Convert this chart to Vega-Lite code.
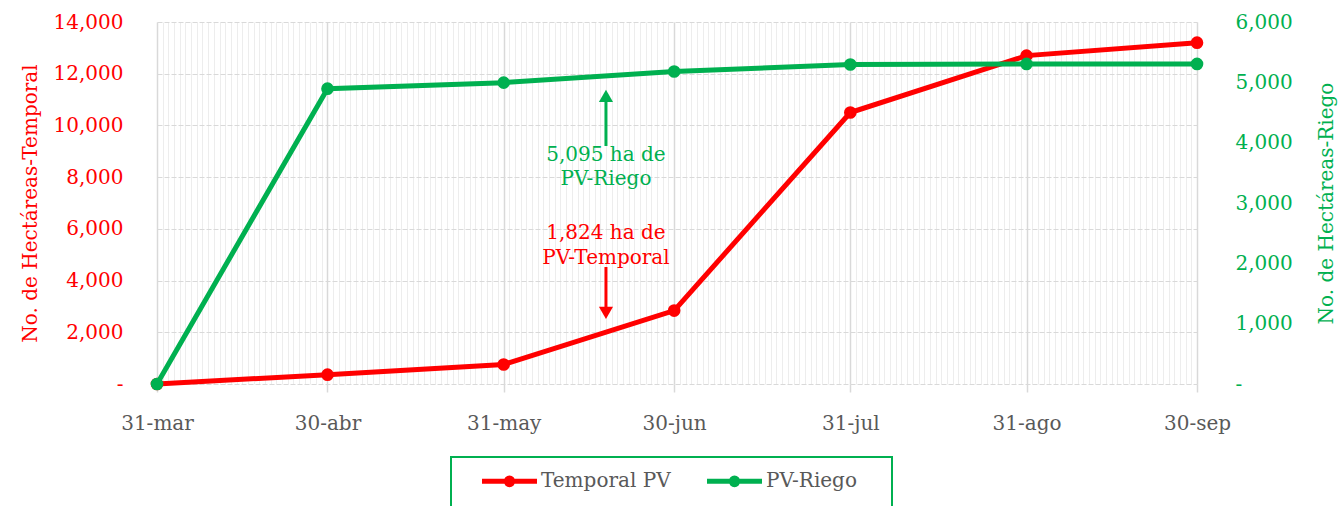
{
  "$schema": "https://vega.github.io/schema/vega-lite/v6.json",
  "autosize": {"type": "none"},
  "padding": {"left": 157, "top": 22, "right": 142, "bottom": 122},
  "width": 1040,
  "height": 362,
  "background": "white",
  "config": {
    "font": "DejaVu Serif",
    "view": {"stroke": null},
    "axis": {"labelFont": "DejaVu Serif", "titleFont": "DejaVu Serif", "labelFontSize": 20, "titleFontSize": 20, "titleFontWeight": "normal"},
    "legend": {"labelFont": "DejaVu Serif", "labelFontSize": 20, "strokeWidth": 2}
  },
  "datasets": {
    "series": [
      {"fecha": "2023-03-31", "serie": "Temporal PV", "valor": 0},
      {"fecha": "2023-04-30", "serie": "Temporal PV", "valor": 360},
      {"fecha": "2023-05-31", "serie": "Temporal PV", "valor": 755},
      {"fecha": "2023-06-30", "serie": "Temporal PV", "valor": 2840},
      {"fecha": "2023-07-31", "serie": "Temporal PV", "valor": 10500},
      {"fecha": "2023-08-31", "serie": "Temporal PV", "valor": 12700},
      {"fecha": "2023-09-30", "serie": "Temporal PV", "valor": 13200},
      {"fecha": "2023-03-31", "serie": "PV-Riego", "valor": 0},
      {"fecha": "2023-04-30", "serie": "PV-Riego", "valor": 4895},
      {"fecha": "2023-05-31", "serie": "PV-Riego", "valor": 4995},
      {"fecha": "2023-06-30", "serie": "PV-Riego", "valor": 5180},
      {"fecha": "2023-07-31", "serie": "PV-Riego", "valor": 5295},
      {"fecha": "2023-08-31", "serie": "PV-Riego", "valor": 5305},
      {"fecha": "2023-09-30", "serie": "PV-Riego", "valor": 5305}
    ],
    "flechas": [
      {"serie": "PV-Riego", "fecha": "2023-06-18", "desde": 9204, "hasta": 10950, "punta": 11140},
      {"serie": "Temporal PV", "fecha": "2023-06-18", "desde": 4525, "hasta": 2950, "punta": 2750}
    ],
    "notas": [
      {"serie": "PV-Riego", "fecha": "2023-06-18", "y": 8856, "texto": "5,095 ha de"},
      {"serie": "PV-Riego", "fecha": "2023-06-18", "y": 7928, "texto": "PV-Riego"},
      {"serie": "Temporal PV", "fecha": "2023-06-18", "y": 5840, "texto": "1,824 ha de"},
      {"serie": "Temporal PV", "fecha": "2023-06-18", "y": 4873, "texto": "PV-Temporal"}
    ]
  },
  "resolve": {"scale": {"y": "independent"}, "axis": {"x": "independent", "y": "independent"}},
  "layer": [
    {
      "data": {"name": "series"},
      "transform": [{"filter": "datum.serie === 'Temporal PV'"}],
      "mark": {"type": "line", "strokeWidth": 5, "point": {"filled": true, "size": 160}},
      "encoding": {
        "x": {
          "field": "fecha", "type": "temporal",
          "scale": {"type": "utc", "domain": [{"year": 2023, "month": 3, "date": 31, "utc": true}, {"year": 2023, "month": 9, "date": 30, "utc": true}], "nice": false},
          "axis": {"orient": "top", "grid": true, "gridColor": "#EDEDED", "gridWidth": 1, "tickCount": {"interval": "day", "step": 1}, "labels": false, "ticks": false, "domain": false, "title": null}
        },
        "y": {
          "field": "valor", "type": "quantitative",
          "scale": {"domain": [0, 14000], "nice": false},
          "axis": {
            "orient": "left",
            "values": [0, 2000, 4000, 6000, 8000, 10000, 12000, 14000],
            "labelExpr": "datum.value == 0 ? '-\u00a0\u00a0' : format(datum.value, ',')",
            "grid": true, "gridColor": "#D9D9D9", "gridDash": [5, 2], "gridWidth": 1.2,
            "domain": false, "ticks": false,
            "labelColor": "#FF0000", "labelPadding": 34,
            "title": "No. de Hectáreas-Temporal", "titleColor": "#FF0000", "titlePadding": 13
          }
        },
        "color": {
          "field": "serie", "type": "nominal",
          "scale": {"domain": ["Temporal PV", "PV-Riego"], "range": ["#FF0000", "#00B050"]},
          "legend": {
            "orient": "none", "legendX": 294, "legendY": 435,
            "direction": "horizontal", "columns": 2, "gridAlign": "each",
            "title": ["\u00a0", "\u00a0", "\u00a0"], "titleOrient": "right", "titleAnchor": "start", "titleBaseline": "top",
            "titlePadding": 35, "titleFontSize": 20,
            "padding": 0, "strokeColor": "#00B050",
            "symbolType": "M-1.279,0H1.279M-0.154,0A0.154,0.154,0,1,1,0.154,0A0.154,0.154,0,1,1,-0.154,0",
            "symbolSize": 1849, "symbolStrokeWidth": 5, "symbolOffset": 34.5,
            "labelOffset": 7.5, "columnPadding": 5,
            "labelColor": "#595959", "labelFontSize": 20
          }
        }
      }
    },
    {
      "data": {"name": "series"},
      "transform": [{"filter": "datum.serie === 'PV-Riego'"}],
      "mark": {"type": "line", "strokeWidth": 5, "point": {"filled": true, "size": 160}},
      "encoding": {
        "x": {
          "field": "fecha", "type": "temporal",
          "axis": {
            "orient": "bottom",
            "values": [
              {"year": 2023, "month": 3, "date": 31, "utc": true},
              {"year": 2023, "month": 4, "date": 30, "utc": true},
              {"year": 2023, "month": 5, "date": 31, "utc": true},
              {"year": 2023, "month": 6, "date": 30, "utc": true},
              {"year": 2023, "month": 7, "date": 31, "utc": true},
              {"year": 2023, "month": 8, "date": 31, "utc": true},
              {"year": 2023, "month": 9, "date": 30, "utc": true}
            ],
            "labelExpr": "utcFormat(datum.value, '%d') + '-' + ['ene','feb','mar','abr','may','jun','jul','ago','sep','oct','nov','dic'][utcmonth(datum.value)]",
            "labelFlush": false, "labelOverlap": false,
            "grid": true, "gridColor": "#D9D9D9", "gridWidth": 1.5,
            "ticks": true, "tickColor": "#D9D9D9", "tickSize": 8, "tickWidth": 1.5,
            "domain": false, "labelColor": "#595959", "labelPadding": 21, "title": null
          }
        },
        "y": {
          "field": "valor", "type": "quantitative",
          "scale": {"domain": [0, 6000], "nice": false},
          "axis": {
            "orient": "right",
            "values": [0, 1000, 2000, 3000, 4000, 5000, 6000],
            "labelExpr": "datum.value == 0 ? '-' : format(datum.value, ',')",
            "grid": false, "domain": false, "ticks": false,
            "labelColor": "#00B050", "labelPadding": 38,
            "title": "No. de Hectáreas-Riego", "titleColor": "#00B050", "titleAngle": 270, "titlePadding": 44
          }
        },
        "color": {"field": "serie", "type": "nominal"}
      }
    },
    {
      "data": {"name": "flechas"},
      "transform": [{"filter": "datum.serie === 'PV-Riego'"}],
      "mark": {"type": "rule", "color": "#00B050", "strokeWidth": 3},
      "encoding": {
        "x": {"field": "fecha", "type": "temporal", "axis": null},
        "y": {"field": "desde", "type": "quantitative", "scale": {"domain": [0, 14000], "nice": false}, "axis": null},
        "y2": {"field": "hasta"}
      }
    },
    {
      "data": {"name": "flechas"},
      "transform": [{"filter": "datum.serie === 'PV-Riego'"}],
      "mark": {"type": "point", "shape": "triangle-up", "filled": true, "color": "#00B050", "size": 200, "opacity": 1},
      "encoding": {
        "x": {"field": "fecha", "type": "temporal", "axis": null},
        "y": {"field": "punta", "type": "quantitative", "scale": {"domain": [0, 14000], "nice": false}, "axis": null}
      }
    },
    {
      "data": {"name": "flechas"},
      "transform": [{"filter": "datum.serie === 'Temporal PV'"}],
      "mark": {"type": "rule", "color": "#FF0000", "strokeWidth": 3},
      "encoding": {
        "x": {"field": "fecha", "type": "temporal", "axis": null},
        "y": {"field": "desde", "type": "quantitative", "scale": {"domain": [0, 14000], "nice": false}, "axis": null},
        "y2": {"field": "hasta"}
      }
    },
    {
      "data": {"name": "flechas"},
      "transform": [{"filter": "datum.serie === 'Temporal PV'"}],
      "mark": {"type": "point", "shape": "triangle-down", "filled": true, "color": "#FF0000", "size": 200, "opacity": 1},
      "encoding": {
        "x": {"field": "fecha", "type": "temporal", "axis": null},
        "y": {"field": "punta", "type": "quantitative", "scale": {"domain": [0, 14000], "nice": false}, "axis": null}
      }
    },
    {
      "data": {"name": "notas"},
      "transform": [{"filter": "datum.serie === 'PV-Riego'"}],
      "mark": {"type": "text", "color": "#00B050", "fontSize": 20, "baseline": "middle", "align": "center"},
      "encoding": {
        "x": {"field": "fecha", "type": "temporal", "axis": null},
        "y": {"field": "y", "type": "quantitative", "scale": {"domain": [0, 14000], "nice": false}, "axis": null},
        "text": {"field": "texto"}
      }
    },
    {
      "data": {"name": "notas"},
      "transform": [{"filter": "datum.serie === 'Temporal PV'"}],
      "mark": {"type": "text", "color": "#FF0000", "fontSize": 20, "baseline": "middle", "align": "center"},
      "encoding": {
        "x": {"field": "fecha", "type": "temporal", "axis": null},
        "y": {"field": "y", "type": "quantitative", "scale": {"domain": [0, 14000], "nice": false}, "axis": null},
        "text": {"field": "texto"}
      }
    }
  ]
}
